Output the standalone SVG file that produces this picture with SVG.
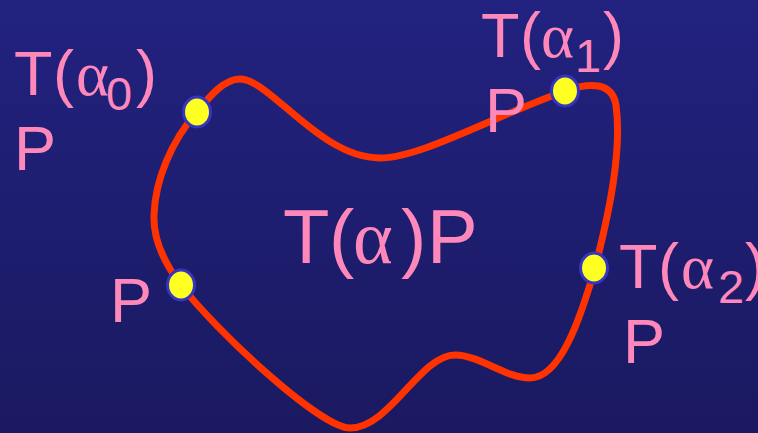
<svg xmlns="http://www.w3.org/2000/svg" width="758" height="433" viewBox="0 0 758 433">
<defs>
<linearGradient id="bg" x1="0" y1="0" x2="0" y2="1">
<stop offset="0" stop-color="#222280"/>
<stop offset="1" stop-color="#1a1960"/>
</linearGradient>
<style>
.lbl{font-family:"Liberation Sans",Arial,sans-serif;fill:#ff88bb;font-size:63px}
.big{font-size:76px}
.al{font-family:"Liberation Serif","Times New Roman",serif;font-style:normal}
.sub{font-size:47px}
.pt{fill:#ffff22;stroke:#3535c0;stroke-width:3}
.curve{fill:none;stroke:#ff3300;stroke-width:7;stroke-linejoin:round}
</style>
</defs>
<rect width="758" height="433" fill="url(#bg)"/>
<g id="connectors">
<path class="curve" d="M197,112 C210,96 224,79 240,79 C270,79 320,158 380,158 C420,158 490,118 565,91 C590,82 612,82 616,105 C622,150 610,210 595,268 C580,320 560,378 530,378 C505,378 480,355 455,355 C420,355 390,428 350,428 C320,428 215,330 181,285 C165,264 153,240 154,215 C155,180 172,140 197,112 Z"/>
</g>
<g id="label-center">
<text class="lbl big" y="263"><tspan x="283">T</tspan><tspan x="329">(</tspan><tspan class="al" x="353">α</tspan><tspan x="401">)</tspan><tspan x="427">P</tspan></text>
</g>
<g id="node-p0">
<ellipse class="pt" cx="197" cy="112" rx="13.5" ry="15"/>
<text class="lbl" y="95"><tspan x="14">T</tspan><tspan x="53">(</tspan><tspan class="al" x="76">α</tspan><tspan class="sub" x="106" y="110">0</tspan><tspan x="136" y="95">)</tspan></text>
<text class="lbl" x="14" y="170">P</text>
</g>
<g id="node-p1">
<ellipse class="pt" cx="565" cy="91" rx="13.5" ry="15"/>
<text class="lbl" y="57"><tspan x="481">T</tspan><tspan x="520">(</tspan><tspan class="al" x="541">α</tspan><tspan class="sub" x="575" y="72">1</tspan><tspan x="603" y="57">)</tspan></text>
<text class="lbl" x="485" y="132">P</text>
</g>
<g id="node-p2">
<ellipse class="pt" cx="594" cy="268" rx="13.5" ry="15"/>
<text class="lbl" y="288"><tspan x="619">T</tspan><tspan x="658">(</tspan><tspan class="al" x="681">α</tspan><tspan class="sub" x="718" y="303">2</tspan><tspan x="745" y="288">)</tspan></text>
<text class="lbl" x="623" y="363">P</text>
</g>
<g id="node-p">
<ellipse class="pt" cx="181" cy="285" rx="13.5" ry="15"/>
<text class="lbl" x="110" y="322">P</text>
</g>
</svg>
